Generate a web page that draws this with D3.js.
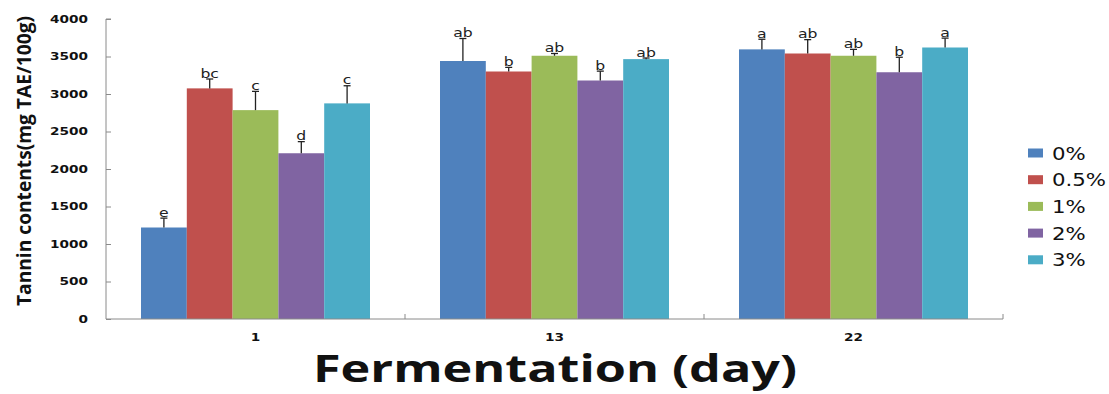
<!DOCTYPE html>
<html>
<head>
<meta charset="utf-8">
<script src="https://cdn.jsdelivr.net/npm/d3@7"></script>
<style>
  html, body { margin: 0; padding: 0; background: #fff; }
  svg { display: block; }
</style>
</head>
<body>
<svg id="chart" width="1109" height="394"></svg>
<script>
// Fermentation days (x categories)
const days = ["1", "13", "22"];
// Treatment levels (series)
const treatments = ["0%", "0.5%", "1%", "2%", "3%"];
const colors = ["#4F81BD", "#C0504D", "#9BBB59", "#8064A2", "#4BACC6"];

// Mean tannin contents (mg TAE/100g), one array per treatment, ordered by day
const tannin0 = [1220, 3440, 3595];
const tannin05 = [3075, 3300, 3540];
const tannin1 = [2785, 3510, 3510];
const tannin2 = [2210, 3180, 3290];
const tannin3 = [2875, 3465, 3620];

// Standard deviations (upper error bars)
const sd0 = [125, 300, 135];
const sd05 = [125, 55, 185];
const sd1 = [250, 30, 85];
const sd2 = [155, 125, 200];
const sd3 = [235, 15, 125];

// Duncan's multiple range test groupings
const sig0 = ["e", "ab", "a"];
const sig05 = ["bc", "b", "ab"];
const sig1 = ["c", "ab", "ab"];
const sig2 = ["d", "b", "b"];
const sig3 = ["c", "ab", "a"];

const yTicks = [0, 500, 1000, 1500, 2000, 2500, 3000, 3500, 4000];

const means = [tannin0, tannin05, tannin1, tannin2, tannin3];
const sds = [sd0, sd05, sd1, sd2, sd3];
const sigs = [sig0, sig05, sig1, sig2, sig3];

const rows = [];
treatments.forEach((t, i) => {
  days.forEach((d, j) => {
    rows.push({ day: d, treatment: t, idx: i, value: means[i][j], sd: sds[i][j], sig: sigs[i][j] });
  });
});

const svg = d3.select("#chart");
const margin = { left: 106, top: 19 };
const plotW = 1003 - margin.left;
const plotBottom = 319;

// Stretch a text element horizontally by a factor (wide rendering of the original typeface)
function widen(sel, k) {
  sel.each(function () {
    const w = this.getComputedTextLength();
    d3.select(this).attr("textLength", w * k).attr("lengthAdjust", "spacingAndGlyphs");
  });
}

const x0 = d3.scaleBand().domain(days).range([margin.left, margin.left + plotW]).paddingInner(0).paddingOuter(0);
const groupPad = 35;
const x1 = d3.scaleBand().domain(treatments).range([groupPad, x0.bandwidth() - groupPad]).padding(0);
const y = d3.scaleLinear().domain([0, 4000]).range([plotBottom, margin.top]);
const color = d3.scaleOrdinal().domain(treatments).range(colors);
const cx = d => x0(d.day) + x1(d.treatment) + x1.bandwidth() / 2;

// Bars
const g = svg.append("g");
g.selectAll("rect.bar")
  .data(rows)
  .join("rect")
  .attr("class", "bar")
  .attr("x", d => x0(d.day) + x1(d.treatment))
  .attr("width", x1.bandwidth())
  .attr("y", d => y(d.value))
  .attr("height", d => y(0) - y(d.value))
  .attr("fill", d => color(d.treatment));

// Upper error bars
const eb = g.selectAll("g.err").data(rows).join("g").attr("class", "err");
eb.append("line")
  .attr("x1", cx).attr("x2", cx)
  .attr("y1", d => y(d.value))
  .attr("y2", d => y(d.value + d.sd))
  .attr("stroke", "#222").attr("stroke-width", 1.3);
eb.append("line")
  .attr("x1", d => cx(d) - 3.5)
  .attr("x2", d => cx(d) + 3.5)
  .attr("y1", d => y(d.value + d.sd))
  .attr("y2", d => y(d.value + d.sd))
  .attr("stroke", "#222").attr("stroke-width", 1.3);

// Significance letters
g.selectAll("text.sig")
  .data(rows)
  .join("text")
  .attr("class", "sig")
  .attr("x", cx)
  .attr("y", d => y(d.value + d.sd) - 1.5)
  .attr("text-anchor", "middle")
  .attr("font-family", "DejaVu Sans")
  .attr("font-size", 12.5)
  .attr("fill", "#222")
  .text(d => d.sig)
  .call(widen, 1.25);

// Y axis (ticks inside)
const yAxis = svg.append("g")
  .attr("transform", `translate(${margin.left},0)`)
  .call(d3.axisRight(y).tickValues(yTicks).tickSize(5).tickFormat(d3.format("d")));
yAxis.select(".domain").attr("stroke", "#8a8a8a").attr("d", `M5,${y(4000)}H0V${y(0)}`);
yAxis.selectAll(".tick line").attr("stroke", "#8a8a8a");
yAxis.selectAll(".tick text")
  .attr("x", -18)
  .attr("text-anchor", "end")
  .attr("font-family", "DejaVu Sans")
  .attr("font-weight", "bold")
  .attr("font-size", 10.5)
  .attr("fill", "#111")
  .call(widen, 1.3);

// X axis (ticks inside, at band boundaries)
const xAxis = svg.append("g").attr("transform", `translate(0,${plotBottom})`);
xAxis.append("line")
  .attr("x1", margin.left).attr("x2", margin.left + plotW)
  .attr("stroke", "#8a8a8a");
const bounds = days.map(d => x0(d)).concat([x0(days[days.length - 1]) + x0.bandwidth()]);
xAxis.selectAll("line.xt").data(bounds.slice(1)).join("line")
  .attr("class", "xt")
  .attr("x1", d => d).attr("x2", d => d)
  .attr("y1", 0).attr("y2", -5)
  .attr("stroke", "#8a8a8a");
xAxis.selectAll("text.xl").data(days).join("text")
  .attr("class", "xl")
  .attr("x", d => x0(d) + x0.bandwidth() / 2)
  .attr("y", 22)
  .attr("text-anchor", "middle")
  .attr("font-family", "DejaVu Sans")
  .attr("font-weight", "bold")
  .attr("font-size", 10.5)
  .attr("fill", "#111")
  .text(d => d)
  .call(widen, 1.3);

// Axis titles
svg.append("text")
  .attr("transform", "translate(31,161) rotate(-90)")
  .attr("text-anchor", "middle")
  .attr("font-family", "Open Sans")
  .attr("font-weight", 700)
  .attr("font-size", 20)
  .attr("fill", "#111")
  .attr("textLength", 290)
  .attr("lengthAdjust", "spacingAndGlyphs")
  .text("Tannin contents(mg TAE/100g)");

svg.append("text")
  .attr("x", 555)
  .attr("y", 382)
  .attr("text-anchor", "middle")
  .attr("font-family", "Open Sans")
  .attr("font-weight", 700)
  .attr("font-size", 38)
  .attr("fill", "#111")
  .attr("textLength", 484)
  .attr("lengthAdjust", "spacingAndGlyphs")
  .text("Fermentation (day)");

// Legend
const legend = svg.append("g").attr("transform", "translate(1028,153)");
const li = legend.selectAll("g").data(treatments).join("g")
  .attr("transform", (d, i) => `translate(0,${i * 26.7})`);
li.append("rect")
  .attr("x", 0).attr("y", -4.5).attr("width", 15).attr("height", 9)
  .attr("fill", d => color(d));
li.append("text")
  .attr("x", 24).attr("y", 6.5)
  .attr("font-family", "DejaVu Sans")
  .attr("font-size", 17)
  .attr("fill", "#111")
  .text(d => d)
  .call(widen, 1.25);
</script>
</body>
</html>
